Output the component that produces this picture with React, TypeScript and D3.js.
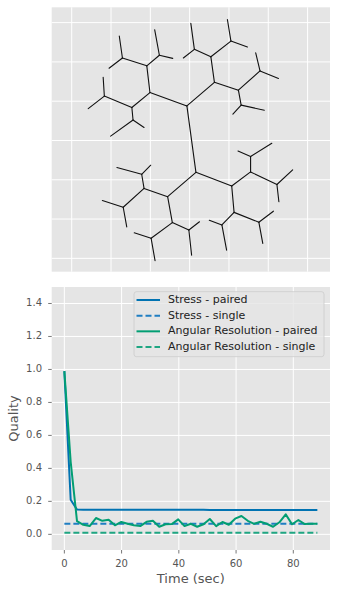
import React from 'react';
import * as d3 from 'd3';

// graph layout (top panel), grid units
const nodes: [string, number, number][] = [
  ['A', 29.3, 38.8], ['B', 31.6, 21.9], ['C', 19.9, 42.2], ['D', 36.3, 44.8],
  ['E', 19.1, 49.0], ['F', 15.3, 38.4],
  ['G', 12.9, 51.0], ['g1', 12.1, 56.6], ['g2', 9.5, 48.4],
  ['H', 22.3, 51.7], ['h1', 21.1, 58.2], ['h2', 25.7, 50.9],
  ['I', 8.3, 41.3], ['i1', 8.0, 46.1], ['i2', 4.2, 38.1],
  ['J', 15.6, 35.2], ['j1', 18.4, 33.3], ['j2', 9.9, 31.1],
  ['K', 35.4, 51.3], ['L', 42.4, 42.8],
  ['M', 31.2, 53.2], ['m1', 30.3, 59.8], ['m2', 28.4, 51.0],
  ['N', 40.5, 55.3], ['n1', 39.6, 60.8], ['n2', 44.7, 53.8],
  ['O', 47.9, 47.7], ['o1', 46.8, 52.3], ['o2', 52.6, 45.8],
  ['P', 43.1, 39.0], ['p1', 49.0, 37.7], ['p2', 41.0, 36.7],
  ['Q', 24.4, 15.7], ['R', 40.7, 18.4], ['S', 18.4, 17.8], ['T', 25.6, 9.1],
  ['U', 17.8, 21.4], ['u1', 11.5, 23.1], ['u2', 20.1, 23.7],
  ['V', 13.1, 13.0], ['v1', 7.8, 14.7], ['v2', 14.0, 8.0],
  ['W', 20.2, 5.1], ['w1', 15.9, 6.5], ['w2', 21.2, -0.6],
  ['X', 29.8, 7.2], ['x1', 32.5, 9.3], ['x2', 30.5, 0.8],
  ['Y', 45.5, 22.0], ['Z', 41.3, 11.7],
  ['AA', 45.5, 25.9], ['aa1', 42.3, 27.3], ['aa2', 50.9, 29.3],
  ['AB', 52.2, 18.8], ['ab1', 56.2, 22.5], ['ab2', 52.7, 14.4],
  ['AC', 38.2, 8.5], ['ac1', 35.0, 9.7], ['ac2', 39.4, 2.1],
  ['AD', 47.6, 9.2], ['ad1', 51.3, 12.0], ['ad2', 48.6, 3.8],
];

const edges: [string, string][] = [
  ['A', 'B'], ['A', 'C'], ['A', 'D'], ['C', 'E'], ['C', 'F'],
  ['E', 'G'], ['E', 'H'], ['F', 'I'], ['F', 'J'],
  ['D', 'K'], ['D', 'L'], ['K', 'M'], ['K', 'N'], ['L', 'O'], ['L', 'P'],
  ['B', 'Q'], ['B', 'R'], ['Q', 'S'], ['Q', 'T'], ['S', 'U'], ['S', 'V'],
  ['T', 'W'], ['T', 'X'], ['R', 'Y'], ['R', 'Z'], ['Y', 'AA'], ['Y', 'AB'],
  ['Z', 'AC'], ['Z', 'AD'],
  ['G', 'g1'], ['G', 'g2'], ['H', 'h1'], ['H', 'h2'], ['I', 'i1'], ['I', 'i2'],
  ['J', 'j1'], ['J', 'j2'], ['M', 'm1'], ['M', 'm2'], ['N', 'n1'], ['N', 'n2'],
  ['O', 'o1'], ['O', 'o2'], ['P', 'p1'], ['P', 'p2'], ['U', 'u1'], ['U', 'u2'],
  ['V', 'v1'], ['V', 'v2'], ['W', 'w1'], ['W', 'w2'], ['X', 'x1'], ['X', 'x2'],
  ['AA', 'aa1'], ['AA', 'aa2'], ['AB', 'ab1'], ['AB', 'ab2'],
  ['AC', 'ac1'], ['AC', 'ac2'], ['AD', 'ad1'], ['AD', 'ad2'],
];

const graphGrid = [0, 10, 20, 30, 40, 50, 60];

// quality over time (bottom panel)
const times = [
  0, 2.21, 4.42, 6.63, 8.84, 11.05, 13.26, 15.47, 17.68, 19.89, 22.1, 24.31,
  26.52, 28.73, 30.94, 33.15, 35.36, 37.57, 39.78, 41.99, 44.2, 46.41, 48.62,
  50.83, 53.04, 55.25, 57.46, 59.67, 61.88, 64.09, 66.3, 68.51, 70.72, 72.93,
  75.14, 77.35, 79.56, 81.77, 83.98, 86.19, 88.4,
];
const stressPaired = [
  0.99, 0.21, 0.15, 0.149, 0.149, 0.149, 0.149, 0.149, 0.149, 0.149, 0.149,
  0.149, 0.149, 0.149, 0.149, 0.149, 0.149, 0.149, 0.149, 0.149, 0.149, 0.149,
  0.149, 0.148, 0.148, 0.148, 0.148, 0.148, 0.148, 0.148, 0.148, 0.148, 0.148,
  0.148, 0.148, 0.148, 0.148, 0.148, 0.148, 0.148, 0.148,
];
const angularPaired = [
  0.99, 0.44, 0.08, 0.058, 0.05, 0.099, 0.082, 0.088, 0.055, 0.075, 0.064,
  0.055, 0.05, 0.076, 0.082, 0.046, 0.061, 0.062, 0.091, 0.05, 0.064, 0.046,
  0.061, 0.093, 0.05, 0.075, 0.058, 0.095, 0.111, 0.082, 0.064, 0.076, 0.064,
  0.046, 0.073, 0.121, 0.061, 0.087, 0.062, 0.064, 0.064,
];
const stressSingle = 0.064;
const angularSingle = 0.01;

const yTicks = [0, 0.2, 0.4, 0.6, 0.8, 1.0, 1.2, 1.4];
const xTicks = [0, 20, 40, 60, 80];

const series = [
  { label: 'Stress - paired', color: '#0173B2', dashed: false },
  { label: 'Stress - single', color: '#1f7ec2', dashed: true },
  { label: 'Angular Resolution - paired', color: '#029E73', dashed: false },
  { label: 'Angular Resolution - single', color: '#1fa682', dashed: true },
];

const W = 337;
const H = 594;
const font = 'DejaVu Sans, sans-serif';

const App = () => {
  // top panel
  const top = { l: 51.7, r: 330, t: 7.3, b: 271.7 };
  const gx = d3.scaleLinear().domain([-5.09, 65.7]).range([top.l, top.r]);
  const gy = d3.scaleLinear().domain([-3.4, 63.9]).range([top.b, top.t]);
  const pos = new Map(nodes.map(([id, x, y]) => [id, [x, y]]));

  // bottom panel
  const bot = { l: 51.7, r: 330, t: 287, b: 550 };
  const [tMin, tMax] = d3.extent(times) as [number, number];
  const pad = (tMax - tMin) * 0.05;
  const x = d3.scaleLinear().domain([tMin - pad, tMax + pad]).range([bot.l, bot.r]);
  const y = d3.scaleLinear().domain([-0.095, 1.5]).range([bot.b, bot.t]);
  const line = d3.line<number>().x((_, i) => x(times[i])).y((d) => y(d));
  const flat = (v: number) => line(times.map(() => v)) || '';

  const lines = [
    { d: line(stressPaired) || '', ...series[0] },
    { d: flat(stressSingle), ...series[1] },
    { d: line(angularPaired) || '', ...series[2] },
    { d: flat(angularSingle), ...series[3] },
  ];

  const leg = { x: 134, y: 291.7, w: 190, h: 65 };

  return (
    <div style={{ position: 'absolute', left: 0, top: 0 }}>
      <svg width={W} height={H} style={{ display: 'block', background: '#fff' }} fontFamily={font}>
        {/* graph drawing */}
        <rect x={top.l} y={top.t} width={top.r - top.l} height={top.b - top.t} fill="#E5E5E5" />
        {graphGrid.map((v) => (
          <line key={'gx' + v} x1={gx(v)} x2={gx(v)} y1={top.t} y2={top.b} stroke="#fff" strokeWidth={1} />
        ))}
        {graphGrid.map((v) => (
          <line key={'gy' + v} y1={gy(v)} y2={gy(v)} x1={top.l} x2={top.r} stroke="#fff" strokeWidth={1} />
        ))}
        {edges.map(([a, b]) => {
          const p = pos.get(a)!;
          const q = pos.get(b)!;
          return (
            <line key={a + b} x1={gx(p[0])} y1={gy(p[1])} x2={gx(q[0])} y2={gy(q[1])}
              stroke="#111" strokeWidth={1.1} strokeLinecap="round" />
          );
        })}

        {/* quality chart */}
        <rect x={bot.l} y={bot.t} width={bot.r - bot.l} height={bot.b - bot.t} fill="#E5E5E5" />
        {xTicks.map((v) => (
          <g key={'xt' + v}>
            <line x1={x(v)} x2={x(v)} y1={bot.t} y2={bot.b} stroke="#fff" strokeWidth={1} />
            <line x1={x(v)} x2={x(v)} y1={bot.b} y2={bot.b + 3.5} stroke="#555" strokeWidth={0.8} />
            <text x={x(v)} y={564} textAnchor="middle" dominantBaseline="middle" fontSize={10} fill="#555">
              {v}
            </text>
          </g>
        ))}
        {yTicks.map((v) => (
          <g key={'yt' + v}>
            <line x1={bot.l} x2={bot.r} y1={y(v)} y2={y(v)} stroke="#fff" strokeWidth={1} />
            <line x1={bot.l - 3.5} x2={bot.l} y1={y(v)} y2={y(v)} stroke="#555" strokeWidth={0.8} />
            <text x={42} y={y(v)} textAnchor="end" dominantBaseline="middle" fontSize={10} fill="#555">
              {v.toFixed(1)}
            </text>
          </g>
        ))}
        <clipPath id="plotClip">
          <rect x={bot.l} y={bot.t} width={bot.r - bot.l} height={bot.b - bot.t} />
        </clipPath>
        <g clipPath="url(#plotClip)">
          {lines.map((l) => (
            <path key={l.label} d={l.d} fill="none" stroke={l.color} strokeWidth={2}
              strokeDasharray={l.dashed ? '6,3' : undefined} strokeLinejoin="round" />
          ))}
        </g>

        <text x={(bot.l + bot.r) / 2} y={579.5} textAnchor="middle" dominantBaseline="middle" fontSize={13} fill="#555">
          Time (sec)
        </text>
        <text transform={`translate(14,${(bot.t + bot.b) / 2}) rotate(-90)`} textAnchor="middle"
          dominantBaseline="middle" fontSize={13} fill="#555">
          Quality
        </text>

        {/* legend */}
        <rect x={leg.x} y={leg.y} width={leg.w} height={leg.h} rx={2.5} fill="#E5E5E5" fillOpacity={0.8}
          stroke="#ccc" strokeWidth={0.8} />
        {series.map((s, i) => {
          const ry = 300 + i * 15.67;
          return (
            <g key={'lg' + s.label}>
              <line x1={136.5} x2={160} y1={ry} y2={ry} stroke={s.color} strokeWidth={2}
                strokeDasharray={s.dashed ? '6,3' : undefined} />
              <text x={168} y={ry} dominantBaseline="middle" fontSize={11} fill="#222">
                {s.label}
              </text>
            </g>
          );
        })}
      </svg>
    </div>
  );
};

export default App;
